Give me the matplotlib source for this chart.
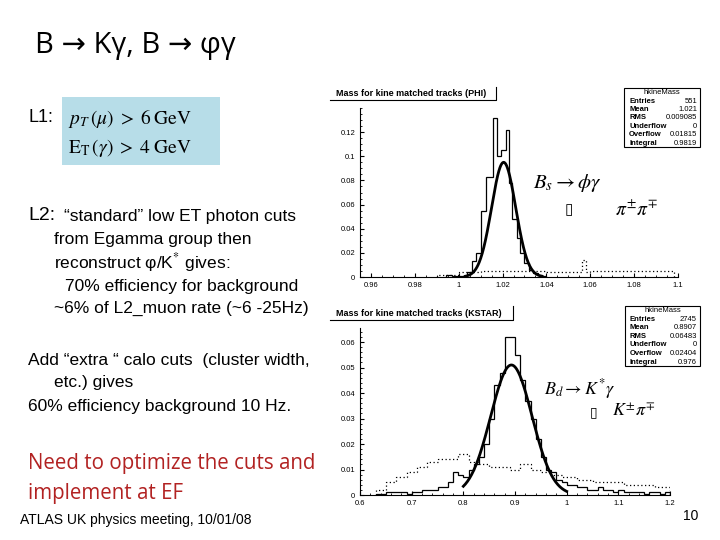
import numpy as np
import matplotlib.pyplot as plt
from matplotlib.patches import Rectangle

plt.rcParams["font.family"] = ["Liberation Sans", "DejaVu Sans"]
plt.rcParams["mathtext.fontset"] = "stix"

# Bs -> phi gamma (top histogram)
phi_edges = [0.994, 0.997, 1.000, 1.004, 1.006, 1.008, 1.010, 1.0125, 1.0155, 1.0175,
             1.0195, 1.0215, 1.023, 1.0245, 1.0265, 1.028, 1.030, 1.032, 1.034,
             1.036, 1.038, 1.040]
phi_vals = [0.002, 0.001, 0.001, 0.004, 0.013, 0.02, 0.055, 0.083, 0.132, 0.1,
            0.105, 0.122, 0.078, 0.048, 0.032, 0.02, 0.012, 0.006, 0.003, 0.002, 0.001]
phi_bkg_edges = [0.990, 1.000, 1.010, 1.040, 1.056, 1.058, 1.060, 1.098]
phi_bkg_vals = [0.002, 0.004, 0.005, 0.004, 0.014, 0.004, 0.005]
phi_fit = dict(mean=1.0205, sigma=0.0055, amp=0.095, lo=1.003, hi=1.038)
phi_stats = [("Entries", "551"), ("Mean", "1.021"), ("RMS", "0.009085"),
             ("Underflow", "0"), ("Overflow", "0.01815"), ("Integral", "0.9819")]

# Bd -> K* gamma (bottom histogram)
k_edges = list(np.round(np.arange(0.63, 1.21, 0.01), 2))
k_vals = [0.0005, 0.0005, 0.001, 0.001, 0.001, 0.001, 0.0005, 0.001, 0.001, 0.002,
          0.002, 0.002, 0.003, 0.003, 0.005, 0.009, 0.008, 0.007, 0.01, 0.012,
          0.015, 0.02, 0.03, 0.043, 0.048, 0.062, 0.062, 0.055, 0.045, 0.037,
          0.03, 0.022, 0.015, 0.01, 0.009, 0.006, 0.005, 0.004, 0.004, 0.003,
          0.003, 0.002, 0.002, 0.003, 0.002, 0.002, 0.001, 0.002, 0.001, 0.001,
          0.001, 0.001, 0.0005, 0.001, 0.001, 0.0005, 0.001]
k_bkg_edges = [0.63, 0.65, 0.67, 0.69, 0.71, 0.73, 0.75, 0.77, 0.79, 0.81, 0.83,
               0.85, 0.87, 0.89, 0.91, 0.93, 0.95, 0.97, 0.99, 1.02, 1.05, 1.08,
               1.11, 1.14, 1.17, 1.2]
k_bkg_vals = [0.002, 0.005, 0.007, 0.009, 0.011, 0.013, 0.014, 0.014, 0.016,
              0.013, 0.012, 0.011, 0.011, 0.01, 0.012, 0.01, 0.009, 0.008, 0.007,
              0.006, 0.005, 0.005, 0.004, 0.004, 0.003]
k_fit = dict(mean=0.893, sigma=0.04, amp=0.051, lo=0.80, hi=1.0)
k_stats = [("Entries", "2745"), ("Mean", "0.8907"), ("RMS", "0.06483"),
           ("Underflow", "0"), ("Overflow", "0.02404"), ("Integral", "0.976")]

W, H = 720, 540
fig = plt.figure(figsize=(7.2, 5.4), dpi=100)


def fx(px):
    return px / W


def fy(py):
    return 1 - py / H


def draw_hist(rect, edges, vals, bkg_edges, bkg_vals, fit, xlim, ylim, xticks, yticks):
    ax = fig.add_axes(rect)
    ax.stairs(vals, edges, color="black", lw=0.9)
    ax.stairs(bkg_vals, bkg_edges, color="black", lw=0.9, linestyle=(0, (1, 2)))
    x = np.linspace(fit["lo"], fit["hi"], 200)
    ax.plot(x, fit["amp"] * np.exp(-0.5 * ((x - fit["mean"]) / fit["sigma"]) ** 2),
            color="black", lw=2)
    ax.set_xlim(*xlim)
    ax.set_ylim(*ylim)
    ax.set_xticks(xticks)
    ax.set_yticks(yticks)
    ax.set_xticklabels([f"{t:g}" for t in xticks])
    ax.set_yticklabels([f"{t:g}" for t in yticks])
    ax.tick_params(labelsize=5.5, length=3, direction="in")
    ax.minorticks_on()
    ax.tick_params(which="minor", length=1.5, direction="in")
    for s in ["top", "right"]:
        ax.spines[s].set_visible(False)
    return ax


draw_hist([fx(360), fy(277), fx(318), fy(108) - fy(277)], phi_edges, phi_vals,
          phi_bkg_edges, phi_bkg_vals, phi_fit, (0.955, 1.1), (0, 0.14),
          [0.96, 0.98, 1, 1.02, 1.04, 1.06, 1.08, 1.1], [0, 0.02, 0.04, 0.06, 0.08, 0.1, 0.12])
draw_hist([fx(360), fy(495), fx(310), fy(328) - fy(495)], k_edges, k_vals,
          k_bkg_edges, k_bkg_vals, k_fit, (0.6, 1.2), (0, 0.0655),
          [0.6, 0.7, 0.8, 0.9, 1, 1.1, 1.2], [0, 0.01, 0.02, 0.03, 0.04, 0.05, 0.06])

# ROOT style titles and stat boxes
fig.text(fx(336), fy(94), "Mass for kine matched tracks (PHI)", fontsize=6.5, weight="bold", va="center")
fig.lines.append(plt.Line2D([fx(330), fx(496), fx(496)], [fy(100), fy(100), fy(87)],
                            transform=fig.transFigure, color="black", lw=0.8))
fig.text(fx(336), fy(313), "Mass for kine matched tracks (KSTAR)", fontsize=6.5, weight="bold", va="center")
fig.lines.append(plt.Line2D([fx(330), fx(513), fx(513)], [fy(320), fy(320), fy(306)],
                            transform=fig.transFigure, color="black", lw=0.8))


def stat_box(x0, y0, x1, y1, stats):
    fig.patches.append(Rectangle((fx(x0), fy(y1)), fx(x1 - x0), fy(y0) - fy(y1),
                                 transform=fig.transFigure, fc="white", ec="black", lw=0.8))
    step = (y1 - y0) / (len(stats) + 1)
    fig.text(fx((x0 + x1) / 2), fy(y0 + step * 0.55), "hkineMass", fontsize=5.5, ha="center", va="center")
    for i, (k, v) in enumerate(stats):
        yy = fy(y0 + step * (i + 1.55))
        fig.text(fx(x0 + 5), yy, k, fontsize=5.5, weight="bold", va="center")
        fig.text(fx(x1 - 3), yy, v, fontsize=5.5, ha="right", va="center")


stat_box(624, 88, 700, 147, phi_stats)
stat_box(625, 306, 700, 366, k_stats)

fig.text(fx(533), fy(183), r"$B_s \rightarrow \phi\gamma$", fontsize=15, va="center")
fig.text(fx(565), fy(210), "▯", fontsize=11, va="center", family="DejaVu Sans")
fig.text(fx(615), fy(210), r"$\pi^{\pm}\pi^{\mp}$", fontsize=14, va="center")
fig.text(fx(544), fy(389), r"$B_d \rightarrow K^{*}\gamma$", fontsize=13, va="center")
fig.text(fx(590), fy(412), "▯", fontsize=10, va="center", family="DejaVu Sans")
fig.text(fx(612), fy(411), r"$K^{\pm}\pi^{\mp}$", fontsize=13, va="center")

# slide text
fig.text(fx(35), fy(45), "B → Kγ, B → φγ", fontsize=21, va="center", family=["Open Sans", "DejaVu Sans"])
fig.text(fx(28), fy(118), "L1:", fontsize=13, va="center")
fig.patches.append(Rectangle((fx(62), fy(165)), fx(158), fy(97) - fy(165),
                             transform=fig.transFigure, fc="#b7dde8", ec="none"))
fig.text(fx(68), fy(118), r"$p_T\,(\mu)\;>\;6\;\mathrm{GeV}$", fontsize=14, va="center")
fig.text(fx(68), fy(148), r"$\mathrm{E_T}\,(\gamma)\;>\;4\;\mathrm{GeV}$", fontsize=14, va="center")
fig.text(fx(28), fy(215), "L2:", fontsize=14, va="center")
fig.text(fx(64), fy(216), "“standard” low ET photon cuts", fontsize=12.5, va="center")
fig.text(fx(54), fy(239), "from Egamma group then", fontsize=12.5, va="center")
fig.text(fx(54), fy(262), r"reconstruct φ/K$^{*}$ gives:", fontsize=12.5, va="center")
fig.text(fx(65), fy(286), "70% efficiency for background", fontsize=12.5, va="center")
fig.text(fx(54), fy(308), "~6% of L2_muon rate (~6 -25Hz)", fontsize=12.5, va="center")
fig.text(fx(28), fy(360), "Add “extra “ calo cuts  (cluster width,", fontsize=12.5, va="center")
fig.text(fx(54), fy(382), "etc.) gives", fontsize=12.5, va="center")
fig.text(fx(28), fy(407), "60% efficiency background 10 Hz.", fontsize=12.5, va="center")
fig.text(fx(28), fy(463), "Need to optimize the cuts and", fontsize=14.8, color="#b22222", va="center",
         family=["Open Sans", "DejaVu Sans"])
fig.text(fx(28), fy(494), "implement at EF", fontsize=14.8, color="#b22222", va="center",
         family=["Open Sans", "DejaVu Sans"])
fig.text(fx(20), fy(520), "ATLAS UK physics meeting, 10/01/08", fontsize=10, va="center")
fig.text(fx(698), fy(516), "10", fontsize=10, ha="right", va="center")

fig.savefig("out.png", dpi=100)
